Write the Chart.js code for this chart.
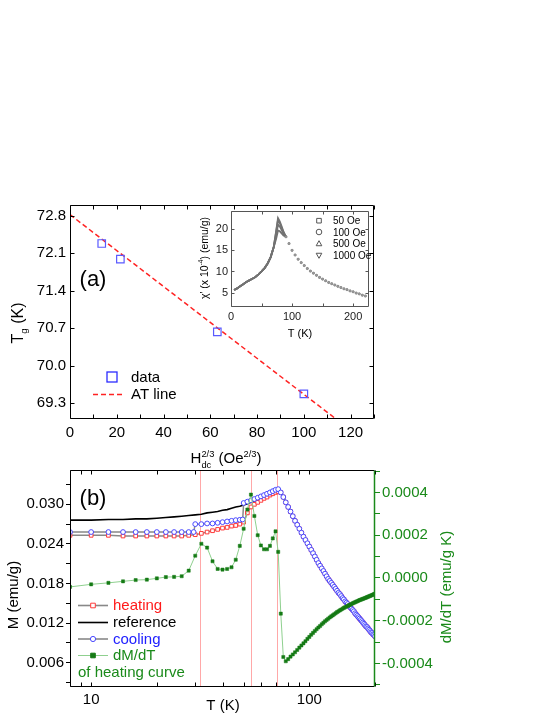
<!DOCTYPE html>
<html lang="en">
<head>
<meta charset="UTF-8">
<title>Tg vs Hdc and M(T)</title>
<script src="https://cdn.jsdelivr.net/npm/chart.js"></script>
<style>
  html, body { margin: 0; padding: 0; background: #fff; }
  #wrap { position: relative; width: 553px; height: 715px; overflow: hidden; }
  #wrap canvas { position: absolute; left: 0; top: 0; }
</style>
</head>
<body>
<div id="wrap">
  <canvas id="panelA" width="553" height="715"></canvas>
  <canvas id="inset" width="553" height="715"></canvas>
  <canvas id="panelB" width="553" height="715"></canvas>
</div>
<script>
// ---------- panel (a): Tg against Hdc^(2/3)
const hdc = [13.57, 21.54, 63.0, 100.0];
const tg = [72.28, 71.99, 70.63, 69.47];
const atH = [0, 120];
const atTg = [72.82, 68.79];
const hTicks = [0, 10, 20, 30, 40, 50, 60, 70, 80, 90, 100, 110, 120, 130];
const tgTicks = [69.3, 70.0, 70.7, 71.4, 72.1, 72.8];

// ---------- inset: chi'(T) for four fields
const chiFields = ['50 Oe', '100 Oe', '500 Oe', '1000 Oe'];
const chiTLow = [5, 10, 15, 20, 25, 30, 35, 40, 45, 50, 55, 60, 65, 70];
const chiLow = [5.6, 6.0, 6.5, 7.0, 7.5, 7.9, 8.3, 8.7, 9.3, 10.0, 10.8, 11.9, 13.4, 15.8];
const chiTPeak = [74, 77, 80, 83, 86];
const chiPeak50 = [19.6, 22.6, 21.8, 20.6, 19.4];
const chiPeak100 = [19.4, 22.2, 21.4, 20.3, 19.2];
const chiPeak500 = [18.6, 21.1, 20.6, 19.8, 18.9];
const chiPeak1000 = [17.8, 19.7, 19.5, 19.0, 18.5];
const chiTTail = [90, 95, 100, 105, 110, 115, 120, 125, 130, 135, 140, 145, 150, 155, 160,
  165, 170, 175, 180, 185, 190, 195, 200, 205, 210, 215, 220];
const chiTail = [18.2, 16.6, 15.0, 13.9, 12.9, 12.1, 11.4, 10.7, 10.1, 9.6, 9.1, 8.6, 8.2, 7.8, 7.4,
  7.1, 6.8, 6.5, 6.2, 5.9, 5.7, 5.4, 5.2, 4.9, 4.7, 4.4, 4.2];
const insetTTicks = [0, 50, 100, 150, 200];
const insetChiTicks = [5, 10, 15, 20];

// ---------- panel (b): M(T) and dM/dT
const tLow = [8, 10, 12, 14, 16, 18, 20, 22, 24, 26, 28, 30, 32, 34, 36, 38, 40, 42, 44, 46, 48,
  50, 52, 54, 56, 58, 60, 62, 64, 66, 68, 70, 72];
const tCoolLow = [8, 10, 12, 14, 16, 18, 20, 22, 24, 26, 28, 29.5, 30, 32, 34, 36, 38, 40, 42, 44, 46, 48,
  49.5, 50, 52, 54, 56, 58, 60, 62, 64, 66, 68, 70, 72];
const tHigh = [74, 76, 78, 80, 82, 84, 86, 88, 90, 92, 94, 96, 98, 100, 102, 104, 106, 108, 110, 112,
  114, 116, 118, 120, 122, 124, 126, 128, 130, 132, 134, 136, 138, 140, 142, 144, 146, 148, 150, 152,
  154, 156, 158, 160, 162, 164, 166, 168, 170, 172, 174, 176, 178, 180, 182, 184, 186, 188, 190, 192,
  194, 196, 198, 200];
const mHeatLow = [0.0253, 0.0253, 0.0253, 0.0252, 0.0252, 0.0252, 0.0252, 0.0252, 0.0252, 0.0252, 0.0253,
  0.0254, 0.0256, 0.0258, 0.0260, 0.0262, 0.0264, 0.0265, 0.0267, 0.0268, 0.0270, 0.0273, 0.0287,
  0.0296, 0.0300, 0.0303, 0.0306, 0.0309, 0.0311, 0.0314, 0.0316, 0.0318, 0.0319];
const mCoolLow = [0.0258, 0.0258, 0.0258, 0.0258, 0.0258, 0.0258, 0.0258, 0.0258, 0.0258, 0.0258, 0.0258,
  0.0258, 0.0270, 0.0270, 0.0271, 0.0271, 0.0272, 0.0273, 0.0274, 0.0275, 0.0276, 0.02765, 0.0277,
  0.0302, 0.0304, 0.0306, 0.0308, 0.0310, 0.0312, 0.0314, 0.0316, 0.0318, 0.0320, 0.0322, 0.0323];
const mRefLow = [0.0276, 0.0276, 0.0277, 0.0277, 0.0278, 0.0278, 0.0279, 0.0280, 0.0281, 0.0282, 0.0283,
  0.0284, 0.0285, 0.0287, 0.0288, 0.0289, 0.0291, 0.0292, 0.0294, 0.0296, 0.0297, 0.0299, 0.0301,
  0.0303, 0.0305, 0.0307, 0.0309, 0.0311, 0.0314, 0.0316, 0.0319, 0.0321, 0.0321];
// above the peak all three curves fall together
const mHigh = [0.0318, 0.0311, 0.0303, 0.0296, 0.0289, 0.0282, 0.0275, 0.0269, 0.0263, 0.0257,
  0.0251, 0.0246, 0.0241, 0.0236, 0.0231, 0.0226, 0.0221, 0.0216, 0.0211, 0.0207,
  0.0203, 0.0199, 0.0195, 0.0191, 0.0187, 0.0184, 0.0181, 0.0178, 0.0175, 0.0172,
  0.0169, 0.0166, 0.0164, 0.0161, 0.0158, 0.0156, 0.0153, 0.0151, 0.0149, 0.0146,
  0.0144, 0.0142, 0.0140, 0.0138, 0.0135, 0.0133, 0.0131, 0.0129, 0.0127, 0.0125,
  0.0123, 0.0121, 0.0119, 0.0117, 0.0115, 0.0114, 0.0112, 0.0110, 0.0108, 0.0106,
  0.0105, 0.0103, 0.0102, 0.0100];
const dmdtLow = [-0.000042, -0.000030, -0.000023, -0.000016, -0.000010, -0.000008, -0.000002, 0.000004,
  0.000005, 0.000008, 0.000034, 0.000104, 0.000160, 0.000142, 0.000078, 0.000042, 0.000039, 0.000042,
  0.000050, 0.000085, 0.000150, 0.000230, 0.000320, 0.000390, 0.000290, 0.000200, 0.000152, 0.000134,
  0.000134, 0.000150, 0.000185, 0.000218, 0.000122];
const dmdtHigh = [-0.000167, -0.000370, -0.000390, -0.000380, -0.000368, -0.000358, -0.000348, -0.000337,
  -0.000326, -0.000316, -0.000306, -0.000296, -0.000285, -0.000276, -0.000266, -0.000257, -0.000248,
  -0.000240, -0.000232, -0.000225, -0.000217, -0.000210, -0.000203, -0.000197, -0.000191, -0.000185,
  -0.000180, -0.000175, -0.000170, -0.000165, -0.000160, -0.000156, -0.000152, -0.000148, -0.000144,
  -0.000140, -0.000137, -0.000134, -0.000131, -0.000128, -0.000125, -0.000122, -0.000119, -0.000116,
  -0.000114, -0.000111, -0.000109, -0.000106, -0.000104, -0.000102, -0.000100, -0.000098, -0.000096,
  -0.000094, -0.000092, -0.000090, -0.000088, -0.000086, -0.000084, -0.000082, -0.000080, -0.000078,
  -0.000076, -0.000074];
const transT = [31.7, 54.3, 70.8];
const tTicks = [8, 9, 10, 20, 30, 40, 50, 60, 70, 80, 90, 100, 200];
const mTicks = [0.003, 0.006, 0.009, 0.012, 0.015, 0.018, 0.021, 0.024, 0.027, 0.030, 0.033];
const dTicks = [-0.0005, -0.0004, -0.0003, -0.0002, -0.0001, 0, 0.0001, 0.0002, 0.0003, 0.0004, 0.0005];

const FONT = '"Liberation Sans", Arial, Helvetica, sans-serif';
Chart.defaults.font.family = FONT;
Chart.defaults.color = '#000';

const pts = (xs, ys) => xs.map((x, i) => ({ x: x, y: ys[i] }));

// text with optional sub/superscripts; (x, y) is the visual centre
function rich(ctx, x, y, parts, size, color, rot, align) {
  const small = size * 0.62;
  ctx.save();
  ctx.translate(x, y);
  ctx.rotate(rot || 0);
  ctx.fillStyle = color;
  ctx.textBaseline = 'alphabetic';
  ctx.textAlign = 'left';
  let total = 0;
  const w = parts.map(p => {
    ctx.font = size + 'px ' + FONT;
    const a = ctx.measureText(p.t).width;
    ctx.font = small + 'px ' + FONT;
    const b = Math.max(p.sub ? ctx.measureText(p.sub).width : 0, p.sup ? ctx.measureText(p.sup).width : 0);
    total += a + b;
    return [a, b];
  });
  let cx = align === 'left' ? 0 : -total / 2;
  const base = size * 0.35;
  parts.forEach((p, i) => {
    ctx.font = size + 'px ' + FONT;
    ctx.fillText(p.t, cx, base);
    cx += w[i][0];
    ctx.font = small + 'px ' + FONT;
    if (p.sub) ctx.fillText(p.sub, cx, base + size * 0.3);
    if (p.sup) ctx.fillText(p.sup, cx, base - size * 0.45);
    cx += w[i][1];
  });
  ctx.restore();
}

// box round the plot plus inward tick marks
function frame(chart, color, rightColor, inX, inY, len) {
  const { ctx, chartArea: a } = chart;
  const L = Math.round(a.left) + 0.5, R = Math.round(a.right) - 0.5;
  const T = Math.round(a.top) + 0.5, B = Math.round(a.bottom) - 0.5;
  ctx.save();
  ctx.lineWidth = 1;
  ctx.strokeStyle = color;
  ctx.beginPath();
  ctx.moveTo(R, T); ctx.lineTo(L, T); ctx.lineTo(L, B); ctx.lineTo(R, B);
  if (inX) {
    chart.scales.x.ticks.forEach(t => {
      const px = Math.round(chart.scales.x.getPixelForValue(t.value)) + 0.5;
      ctx.moveTo(px, B); ctx.lineTo(px, B - len);
      ctx.moveTo(px, T); ctx.lineTo(px, T + len);
    });
  }
  if (inY) {
    chart.scales.y.ticks.forEach(t => {
      const py = Math.round(chart.scales.y.getPixelForValue(t.value)) + 0.5;
      ctx.moveTo(L, py); ctx.lineTo(L + len, py);
      ctx.moveTo(R, py); ctx.lineTo(R - len, py);
    });
  }
  ctx.stroke();
  ctx.strokeStyle = rightColor;
  ctx.lineWidth = rightColor === color ? 1 : 1.5;
  ctx.beginPath(); ctx.moveTo(R, T); ctx.lineTo(R, B); ctx.stroke();
  ctx.restore();
}

function marker(ctx, style, x, y, r, stroke, fill) {
  ctx.save();
  ctx.strokeStyle = stroke; ctx.fillStyle = fill; ctx.lineWidth = 1;
  ctx.beginPath();
  if (style === 'rect') ctx.rect(x - r, y - r, 2 * r, 2 * r);
  else if (style === 'circle') ctx.arc(x, y, r, 0, Math.PI * 2);
  else if (style === 'up') { ctx.moveTo(x, y - r); ctx.lineTo(x + r, y + r * 0.8); ctx.lineTo(x - r, y + r * 0.8); ctx.closePath(); }
  else { ctx.moveTo(x, y + r); ctx.lineTo(x + r, y - r * 0.8); ctx.lineTo(x - r, y - r * 0.8); ctx.closePath(); }
  ctx.fill(); ctx.stroke();
  ctx.restore();
}

const noGrid = { display: false, drawTicks: false, tickLength: 0 };

// ================= panel (a)
new Chart(document.getElementById('panelA'), {
  type: 'scatter',
  data: {
    datasets: [
      { label: 'data', data: pts(hdc, tg), pointStyle: 'rect', pointRadius: 5.3,
        pointBorderColor: '#5a5aff', pointBackgroundColor: 'rgba(0,0,0,0)', pointBorderWidth: 1.2, showLine: false },
      { label: 'AT line', data: pts(atH, atTg), showLine: true, borderColor: '#ff2222', borderWidth: 1.5,
        borderDash: [5, 3], pointRadius: 0 }
    ]
  },
  options: {
    responsive: false, animation: false, devicePixelRatio: 1, events: [],
    layout: { padding: { top: 205, right: 179, left: 0, bottom: 0 } },
    plugins: { legend: { display: false }, tooltip: { enabled: false } },
    scales: {
      x: {
        type: 'linear', min: 0, max: 130,
        afterBuildTicks: s => { s.ticks = hTicks.map(v => ({ value: v })); },
        afterFit: s => { s.height = 296; },
        grid: noGrid, border: { display: false },
        ticks: { autoSkip: false, maxRotation: 0, padding: 5, font: { size: 15 },
          callback: v => (v % 20 === 0 && v <= 120) ? String(v) : '' }
      },
      y: {
        type: 'linear', min: 69.0, max: 73.0,
        afterBuildTicks: s => { s.ticks = tgTicks.map(v => ({ value: v })); },
        afterFit: s => { s.width = 70; },
        grid: noGrid, border: { display: false },
        ticks: { autoSkip: false, padding: 4, font: { size: 15 }, callback: v => v.toFixed(1) }
      }
    }
  },
  plugins: [{
    id: 'decoA',
    afterDraw(chart) {
      const ctx = chart.ctx;
      frame(chart, '#000', '#000', true, true, 4);
      rich(ctx, 93, 278, [{ t: '(a)' }], 22, '#000');
      ctx.save();
      ctx.strokeStyle = '#2b2bff'; ctx.lineWidth = 1.3;
      ctx.strokeRect(107, 372, 10, 10);
      ctx.strokeStyle = '#ff2222'; ctx.lineWidth = 1.5; ctx.setLineDash([5, 3]);
      ctx.beginPath(); ctx.moveTo(93, 394.5); ctx.lineTo(125, 394.5); ctx.stroke();
      ctx.restore();
      rich(ctx, 131, 377, [{ t: 'data' }], 15, '#000', 0, 'left');
      rich(ctx, 131, 394, [{ t: 'AT line' }], 15, '#000', 0, 'left');
      rich(ctx, 17, 323, [{ t: 'T', sub: 'g' }, { t: ' (K)' }], 16, '#000', -Math.PI / 2);
      rich(ctx, 226, 458, [{ t: 'H', sub: 'dc', sup: '2/3' }, { t: ' (Oe', sup: '2/3' }, { t: ')' }], 15, '#000');
    }
  }]
});

// ================= inset
const insetPeaks = [chiPeak50, chiPeak100, chiPeak500, chiPeak1000];
const insetStyles = [['rect', 0], ['circle', 0], ['triangle', 0], ['triangle', 180]];
new Chart(document.getElementById('inset'), {
  type: 'line',
  data: {
    datasets: chiFields.map((f, k) => ({
      label: f,
      data: pts(chiTLow.concat(chiTPeak, chiTTail), chiLow.concat(insetPeaks[k], chiTail)),
      borderColor: '#727272', borderWidth: 1.8,
      segment: { borderColor: c => c.p0.parsed.x >= 88 ? 'rgba(0,0,0,0)' : '#727272' },
      pointStyle: insetStyles[k][0], rotation: insetStyles[k][1],
      pointRadius: c => (c.raw && c.raw.x >= 90) ? 1.1 : 0,
      pointBorderColor: '#8a8a8a', pointBackgroundColor: '#a8a8a8', pointBorderWidth: 0.6
    }))
  },
  options: {
    responsive: false, animation: false, devicePixelRatio: 1, events: [],
    layout: { padding: { top: 211, right: 184, left: 0, bottom: 0 } },
    plugins: { legend: { display: false }, tooltip: { enabled: false } },
    scales: {
      x: {
        type: 'linear', min: 0, max: 226,
        afterBuildTicks: s => { s.ticks = insetTTicks.map(v => ({ value: v })); },
        afterFit: s => { s.height = 408; },
        grid: noGrid, border: { display: false },
        ticks: { autoSkip: false, maxRotation: 0, padding: 3, color: '#222', font: { size: 11 },
          callback: v => v % 100 === 0 ? String(v) : '' }
      },
      y: {
        type: 'linear', min: 1.6, max: 24.3,
        afterBuildTicks: s => { s.ticks = insetChiTicks.map(v => ({ value: v })); },
        afterFit: s => { s.width = 231; },
        grid: noGrid, border: { display: false },
        ticks: { autoSkip: false, padding: 3, color: '#222', font: { size: 11 }, callback: v => String(v) }
      }
    }
  },
  plugins: [{
    id: 'decoInset',
    afterDraw(chart) {
      const ctx = chart.ctx;
      frame(chart, '#555', '#555', true, true, 3);
      const rowY = [220.7, 232, 243.5, 255.5];
      const shapes = ['rect', 'circle', 'up', 'down'];
      chiFields.forEach((f, k) => {
        marker(ctx, shapes[k], 319, rowY[k], shapes[k] === 'rect' ? 2.3 : 2.8, '#555', '#fff');
        rich(ctx, 333, rowY[k], [{ t: f }], 10, '#000', 0, 'left');
      });
      rich(ctx, 300, 333, [{ t: 'T (K)' }], 11, '#000');
      rich(ctx, 204, 258, [{ t: "\u03c7' (x 10", sup: '-4' }, { t: ') (emu/g)' }], 10.5, '#000', -Math.PI / 2);
    }
  }]
});

// ================= panel (b)
const GREEN = '#1a8a1a';
new Chart(document.getElementById('panelB'), {
  type: 'line',
  data: {
    datasets: [
      { label: 'dM/dT', yAxisID: 'y2', data: pts(tLow.concat(tHigh), dmdtLow.concat(dmdtHigh)),
        borderColor: '#8fd08f', borderWidth: 1, pointStyle: 'rect', pointRadius: 2.2,
        pointBackgroundColor: '#157a15', pointBorderColor: '#157a15', pointBorderWidth: 0.5 },
      { label: 'cooling', yAxisID: 'y', data: pts(tCoolLow.concat(tHigh), mCoolLow.concat(mHigh)),
        borderColor: '#888', borderWidth: 1.5, pointStyle: 'circle', pointRadius: 2.4,
        pointBorderColor: '#4848ff', pointBackgroundColor: '#fff', pointBorderWidth: 1 },
      { label: 'heating', yAxisID: 'y', data: pts(tLow.concat(tHigh), mHeatLow.concat(mHigh)),
        borderColor: '#888', borderWidth: 1.5, pointStyle: 'rect', pointRadius: 2.6,
        pointBorderColor: '#ff3a3a', pointBackgroundColor: '#fff', pointBorderWidth: 1 },
      { label: 'reference', yAxisID: 'y', data: pts(tLow.concat(tHigh), mRefLow.concat(mHigh)),
        borderColor: '#000', borderWidth: 1.6, pointRadius: 0 }
    ]
  },
  options: {
    responsive: false, animation: false, devicePixelRatio: 1, events: [],
    layout: { padding: { top: 470, right: 0, left: 0, bottom: 0 } },
    plugins: { legend: { display: false }, tooltip: { enabled: false } },
    scales: {
      x: {
        type: 'logarithmic', min: 8, max: 200,
        afterBuildTicks: s => { s.ticks = tTicks.map(v => ({ value: v })); },
        afterFit: s => { s.height = 28.5; },
        grid: noGrid, border: { display: false },
        ticks: { autoSkip: false, maxRotation: 0, padding: 4, font: { size: 15 },
          callback: v => (v === 10 || v === 100) ? String(v) : '' }
      },
      y: {
        type: 'linear', position: 'left', min: 0.0024, max: 0.0352,
        afterBuildTicks: s => { s.ticks = mTicks.map(v => ({ value: v })); },
        afterFit: s => { s.width = 70; },
        grid: { drawOnChartArea: false, tickLength: 4, color: '#000' }, border: { display: false },
        ticks: { autoSkip: false, padding: 2, font: { size: 15 },
          callback: v => Math.round(v * 1000) % 6 === 0 ? v.toFixed(3) : '' }
      },
      y2: {
        type: 'linear', position: 'right', min: -0.000508, max: 0.000505,
        afterBuildTicks: s => { s.ticks = dTicks.map(v => ({ value: v })); },
        afterFit: s => { s.width = 178; },
        grid: { drawOnChartArea: false, tickLength: 5, color: GREEN }, border: { display: false },
        ticks: { autoSkip: false, padding: 2, color: GREEN, font: { size: 15 },
          callback: v => Math.round(v * 1e4) % 2 === 0 ? v.toFixed(4) : '' }
      }
    }
  },
  plugins: [{
    id: 'decoB',
    beforeDatasetsDraw(chart) {
      const { ctx, chartArea: a } = chart;
      ctx.save();
      ctx.strokeStyle = 'rgba(255,110,110,0.6)'; ctx.lineWidth = 1;
      transT.forEach(t => {
        const px = Math.round(chart.scales.x.getPixelForValue(t)) + 0.5;
        ctx.beginPath(); ctx.moveTo(px, a.top); ctx.lineTo(px, a.bottom); ctx.stroke();
      });
      ctx.restore();
    },
    afterDraw(chart) {
      const ctx = chart.ctx;
      frame(chart, '#000', GREEN, true, false, 4);
      rich(ctx, 93, 497, [{ t: '(b)' }], 22, '#000');
      // legend
      const rows = [
        { y: 605, txt: 'heating', col: '#ff1a1a', line: '#888', m: 'rect', mc: '#ff3a3a', mf: '#fff' },
        { y: 622, txt: 'reference', col: '#000', line: '#000', m: null },
        { y: 638.5, txt: 'cooling', col: '#2020ff', line: '#888', m: 'circle', mc: '#4848ff', mf: '#fff' },
        { y: 655, txt: 'dM/dT', col: GREEN, line: '#8fd08f', m: 'rect', mc: '#157a15', mf: '#157a15' }
      ];
      rows.forEach(r => {
        ctx.save();
        ctx.strokeStyle = r.line; ctx.lineWidth = r.line === '#8fd08f' ? 1 : 1.6;
        ctx.beginPath(); ctx.moveTo(78, r.y + 0.5); ctx.lineTo(108, r.y + 0.5); ctx.stroke();
        ctx.restore();
        if (r.m) marker(ctx, r.m, 93, r.y + 0.5, r.m === 'rect' ? 2.3 : 2.6, r.mc, r.mf);
        rich(ctx, 113, r.y, [{ t: r.txt }], 15, r.col, 0, 'left');
      });
      rich(ctx, 78, 672, [{ t: 'of heating curve' }], 15, GREEN, 0, 'left');
      rich(ctx, 13, 595, [{ t: 'M (emu/g)' }], 15, '#000', -Math.PI / 2);
      rich(ctx, 446, 587, [{ t: 'dM/dT (emu/g K)' }], 15, GREEN, -Math.PI / 2);
      rich(ctx, 223, 705, [{ t: 'T (K)' }], 15, '#000');
    }
  }]
});
</script>
</body>
</html>
